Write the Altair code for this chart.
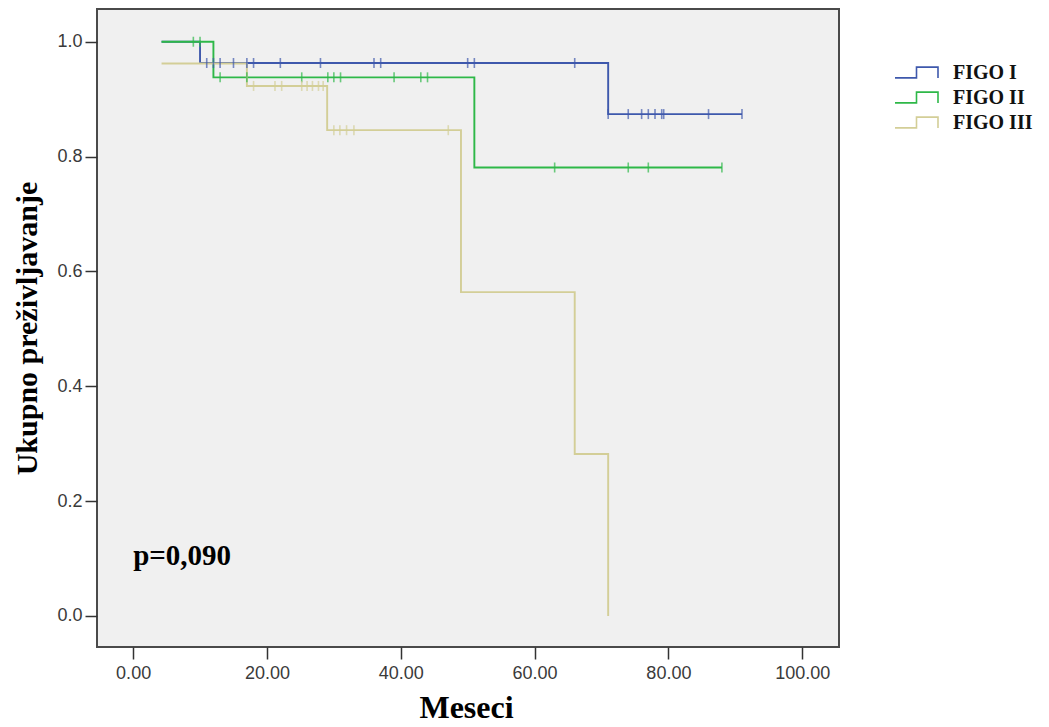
import altair as alt
import pandas as pd

groups = ["FIGO I", "FIGO II", "FIGO III"]
colors = ["#3E58AC", "#2EB848", "#D3CE97"]

# Kaplan-Meier step curves (month, survival)
blue_t = [4.25, 10, 71, 91]
blue_s = [1.0, 0.963, 0.874, 0.874]
green_t = [4.25, 12, 51, 88]
green_s = [1.0, 0.938, 0.781, 0.781]
yellow_t = [4.25, 17, 29, 49, 66, 71]
yellow_s = [0.962, 0.923, 0.846, 0.564, 0.282, 0.0]

# censored observations
blue_ct = [11, 12, 13, 15, 17, 18, 22, 28, 36, 37, 50, 51, 66,
           71, 74, 76, 77, 78, 79, 79.3, 86, 91]
blue_cs = [0.963] * 13 + [0.874] * 9
green_ct = [9, 10, 13, 17, 25.2, 29.1, 30, 31, 39, 43, 44, 63, 74, 77, 88]
green_cs = [1.0] * 2 + [0.938] * 9 + [0.781] * 4
yellow_ct = [18, 21.2, 22.2, 25.2, 26, 26.8, 27.7, 28.4, 30, 30.9, 31.9, 33, 47.1]
yellow_cs = [0.923] * 8 + [0.846] * 5

x_ticks = [0, 20, 40, 60, 80, 100]
y_ticks = [0.0, 0.2, 0.4, 0.6, 0.8, 1.0]

rows = []
for g, ts, ss in zip(groups, [blue_t, green_t, yellow_t], [blue_s, green_s, yellow_s]):
    for i, (t, s) in enumerate(zip(ts, ss)):
        rows.append({"t": t, "s": s, "group": g, "ord": i})
lines_df = pd.DataFrame(rows)

crows = []
for g, ts, ss in zip(groups, [blue_ct, green_ct, yellow_ct], [blue_cs, green_cs, yellow_cs]):
    for t, s in zip(ts, ss):
        crows.append({"t": t, "s": s, "group": g})
cens_df = pd.DataFrame(crows)

note_df = pd.DataFrame({"t": [0.0], "s": [0.089], "label": ["p=0,090"]})

xscale = alt.Scale(domain=[-5.4, 105.5], nice=False, zero=False)
yscale = alt.Scale(domain=[-0.054, 1.057], nice=False, zero=False)
cscale = alt.Scale(domain=groups, range=colors)

xaxis = alt.Axis(values=x_ticks, format=".2f", title="Meseci", grid=False, domain=False,
                 tickSize=12, tickWidth=1.5, tickColor="#333333",
                 labelFont="Liberation Sans", labelFontSize=18, labelColor="#3a3a3a",
                 labelPadding=5,
                 titleFont="Liberation Serif", titleFontSize=32, titleFontWeight="bold",
                 titleColor="#000000", titleX=369, titleY=70, titleBaseline="alphabetic")
yaxis = alt.Axis(values=y_ticks, format=".1f", title="Ukupno preživljavanje", grid=False,
                 domain=False, tickSize=12, tickWidth=1.5, tickColor="#333333",
                 labelFont="Liberation Sans", labelFontSize=18, labelColor="#3a3a3a",
                 labelPadding=3,
                 titleFont="Liberation Serif", titleFontSize=30, titleFontWeight="bold",
                 titleColor="#000000", titleX=-61, titleY=319, titleAngle=270,
                 titleAlign="center", titleBaseline="alphabetic")

lines = alt.Chart(lines_df).mark_line(interpolate="step-after", strokeWidth=1.9).encode(
    x=alt.X("t:Q", scale=xscale, axis=xaxis),
    y=alt.Y("s:Q", scale=yscale, axis=yaxis),
    color=alt.Color("group:N", scale=cscale, legend=alt.Legend(
        title=None, orient="none", legendX=797, legendY=51,
        symbolType="M-1,0.25H0V-0.25H1V0.25", symbolSize=1849,
        symbolStrokeWidth=1.6, symbolFillColor="transparent",
        clipHeight=25, rowPadding=0, padding=0, labelOffset=14,
        labelFont="Liberation Serif", labelFontSize=20, labelFontWeight="bold",
        labelColor="#111111")),
    order="ord:Q",
)

ticks = alt.Chart(cens_df).mark_tick(orient="vertical", thickness=1.6, size=10).encode(
    x=alt.X("t:Q", scale=xscale),
    y=alt.Y("s:Q", scale=yscale),
    color=alt.Color("group:N", scale=cscale, legend=None),
)

note = alt.Chart(note_df).mark_text(align="left", baseline="alphabetic",
                                     font="Liberation Serif", fontSize=29,
                                     fontWeight="bold", color="#000000").encode(
    x=alt.X("t:Q", scale=xscale),
    y=alt.Y("s:Q", scale=yscale),
    text="label:N",
)

chart = alt.layer(lines, ticks, note).resolve_legend(color="independent").properties(
    width=742, height=638, autosize="none",
    padding={"left": 89, "top": 1, "right": 202, "bottom": 80},
    background="#ffffff",
).configure_view(fill="#F0F0F0", stroke="#4a4a4a", strokeWidth=2)

chart.save("out.html", embed_options={"renderer": "svg", "actions": False})
